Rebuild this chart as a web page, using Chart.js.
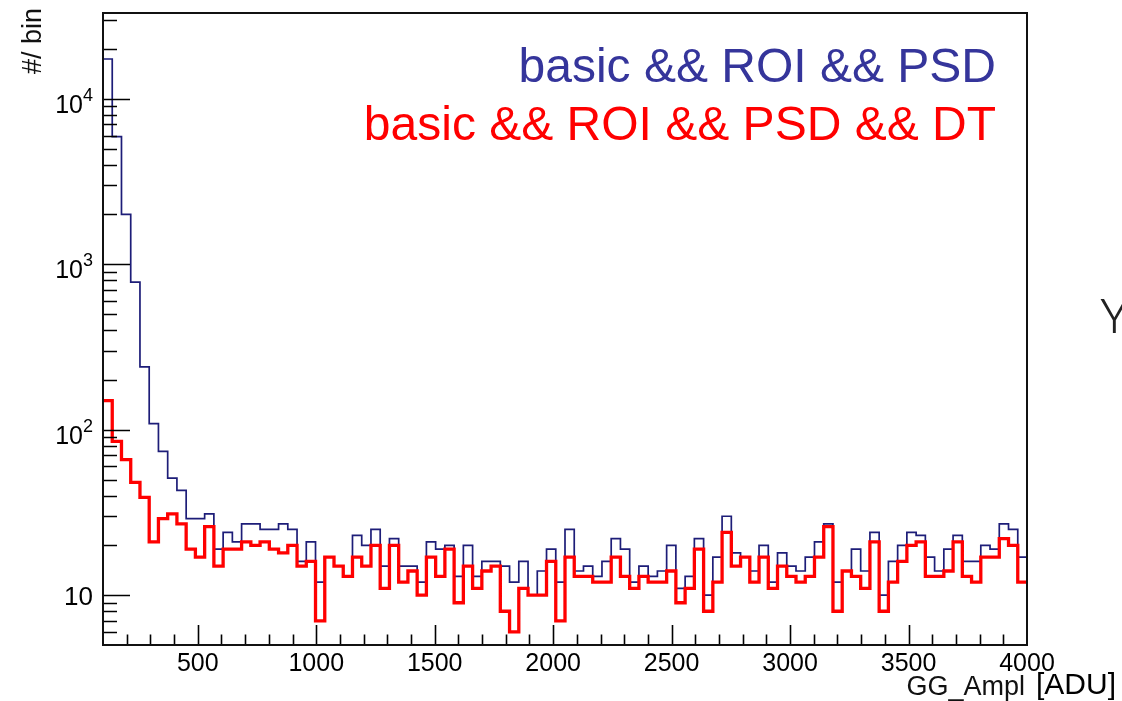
<!DOCTYPE html>
<html>
<head>
<meta charset="utf-8">
<title>GG_Ampl</title>
<script src="https://cdn.jsdelivr.net/npm/chart.js@4.4.1/dist/chart.umd.min.js"></script>
<style>
  html, body { margin: 0; padding: 0; background: #ffffff; }
  #wrap { width: 1122px; height: 701px; }
  canvas { display: block; }
</style>
</head>
<body>
<div id="wrap"><canvas id="c" width="1122" height="701"></canvas></div>
<script>
// Histogram binning: 100 bins of 39 ADU from 100 to 4000
const binLow = 100;
const binWidth = 39;

// Counts per bin, cut "basic && ROI && PSD"
const countsPSD = [
  17400, 5900, 2000, 780, 240, 109, 74, 51, 43, 29,
  29, 31, 19, 24, 21, 27, 27, 25, 25, 27,
  25, 16, 21, 12, 17, 15, 13, 23, 20, 25,
  15, 22, 15, 15, 12, 21, 19, 20, 13, 20,
  13, 16, 16, 15, 12, 16, 10, 14, 19, 12,
  25, 14, 15, 13, 16, 22, 19, 12, 15, 13,
  14, 20, 11, 13, 22, 10, 17, 30, 18, 17,
  14, 20, 12, 18, 15, 14, 17, 21, 27, 12,
  14, 19, 14, 24, 10, 16, 20, 24, 23, 17,
  14, 19, 23, 16, 16, 20, 19, 27, 25, 17
];

// Counts per bin, cut "basic && ROI && PSD && DT"
const countsPSDDT = [
  150, 85, 66, 48, 39, 21, 29, 31, 27, 19,
  17, 26, 15, 19, 19, 21, 20, 21, 19, 18,
  20, 15, 16, 7, 17, 15, 13, 17, 15, 20,
  11, 20, 12, 14, 10, 17, 13, 19, 9, 15,
  11, 14, 15, 8, 6, 11, 10, 10, 16, 7,
  17, 13, 13, 12, 12, 17, 13, 11, 13, 12,
  12, 14, 9, 11, 19, 8, 12, 24, 15, 17,
  12, 17, 11, 15, 13, 12, 13, 17, 26, 8,
  14, 13, 11, 21, 8, 12, 16, 20, 21, 13,
  13, 14, 21, 13, 12, 17, 17, 22, 20, 12
];

// Axis ranges and tick labels
const xRange = [100, 4000];
const yRange = [5, 33000];
const xMajorTicks = [500, 1000, 1500, 2000, 2500, 3000, 3500, 4000];
const xMinorStep = 100;
const yDecades = [10, 100, 1000, 10000];
const yDecadeExponents = [1, 2, 3, 4];

const legendLines = ['basic && ROI && PSD', 'basic && ROI && PSD && DT'];
const xTitle = 'GG_Ampl';
const xUnit = '[ADU]';
const yTitle = '#/ bin';

const colPSD = '#1d1d78';
const colPSDText = '#35359b';
const colDT = '#ff0000';

// Step outline: one point per bin low edge plus the closing upper edge
function toSteps(counts) {
  const pts = counts.map((c, i) => ({ x: binLow + i * binWidth, y: c }));
  pts.push({ x: binLow + counts.length * binWidth, y: counts[counts.length - 1] });
  return pts;
}

const SANS = '"Liberation Sans", Arial, Helvetica, sans-serif';

// ROOT-style frame: inward ticks, labels, titles and the in-pad legend
const rootFrame = {
  id: 'rootFrame',
  afterDraw(chart) {
    const { ctx, chartArea: a } = chart;
    const xs = chart.scales.x;
    const ys = chart.scales.y;
    ctx.save();

    // ticks
    ctx.strokeStyle = '#000';
    ctx.lineWidth = 1.6;
    ctx.beginPath();
    for (let v = xRange[0] + xMinorStep; v < xRange[1]; v += xMinorStep) {
      const px = Math.round(xs.getPixelForValue(v)) + 0.5;
      const len = (v % 500 === 0) ? 20 : 10.5;
      ctx.moveTo(px, a.bottom);
      ctx.lineTo(px, a.bottom - len);
    }
    for (let d = 1; d <= 10000; d *= 10) {
      for (let m = 1; m <= 9; m++) {
        const v = d * m;
        if (v <= yRange[0] || v >= yRange[1]) continue;
        const py = Math.round(ys.getPixelForValue(v)) + 0.5;
        const len = (m === 1) ? 27 : 14;
        ctx.moveTo(a.left, py);
        ctx.lineTo(a.left + len, py);
      }
    }
    ctx.stroke();

    // frame
    ctx.lineWidth = 2;
    ctx.strokeStyle = '#111';
    ctx.strokeRect(a.left, a.top, a.right - a.left, a.bottom - a.top);

    // x tick labels
    ctx.fillStyle = '#000';
    ctx.font = '25px ' + SANS;
    ctx.textAlign = 'center';
    ctx.textBaseline = 'alphabetic';
    xMajorTicks.forEach(v => {
      ctx.fillText(String(v), xs.getPixelForValue(v), a.bottom + 26);
    });

    // y tick labels: 10, 10^2, 10^3, 10^4
    const labelRight = 93;
    yDecades.forEach((v, i) => {
      const py = ys.getPixelForValue(v);
      const e = yDecadeExponents[i];
      if (e === 1) {
        ctx.font = '26px ' + SANS;
        ctx.textAlign = 'right';
        ctx.fillText('10', labelRight, py + 9.5);
      } else {
        ctx.font = '18px ' + SANS;
        ctx.textAlign = 'right';
        const ew = ctx.measureText(String(e)).width;
        ctx.fillText(String(e), labelRight, py + 2);
        ctx.font = '25px ' + SANS;
        ctx.fillText('10', labelRight - ew, py + 14);
      }
    });

    // axis titles
    ctx.textAlign = 'right';
    ctx.font = '27px ' + SANS;
    ctx.fillStyle = '#111';
    ctx.fillText(xTitle, a.right - 2, 695);
    ctx.textAlign = 'left';
    ctx.font = '30px ' + SANS;
    ctx.fillStyle = '#000';
    ctx.fillText(xUnit, 1036, 694);

    ctx.save();
    ctx.translate(41, 8);
    ctx.rotate(-Math.PI / 2);
    ctx.textAlign = 'right';
    ctx.font = '27px ' + SANS;
    ctx.fillStyle = '#111';
    ctx.fillText(yTitle, 0, 0);
    ctx.restore();

    // legend text inside the pad
    ctx.textAlign = 'right';
    ctx.font = '48px ' + SANS;
    ctx.fillStyle = colPSDText;
    ctx.fillText(legendLines[0], 996, 82);
    ctx.fillStyle = colDT;
    ctx.fillText(legendLines[1], 996, 140);

    // neighbouring panel title, cut at the page edge
    ctx.textAlign = 'left';
    ctx.font = '300 48px Roboto, "Open Sans", sans-serif';
    ctx.fillStyle = '#222';
    ctx.fillText('Y', 1100, 333);

    ctx.restore();
  }
};

new Chart(document.getElementById('c'), {
  type: 'line',
  data: {
    datasets: [
      {
        label: legendLines[0],
        data: toSteps(countsPSD),
        borderColor: colPSD,
        borderWidth: 1.7,
        stepped: 'before',
        pointRadius: 0,
        fill: false,
        order: 2
      },
      {
        label: legendLines[1],
        data: toSteps(countsPSDDT),
        borderColor: colDT,
        borderWidth: 3.3,
        stepped: 'before',
        pointRadius: 0,
        fill: false,
        order: 1
      }
    ]
  },
  options: {
    responsive: false,
    devicePixelRatio: 1,
    animation: false,
    events: [],
    layout: { padding: { left: 103, top: 13, right: 95, bottom: 56 } },
    plugins: {
      legend: { display: false },
      tooltip: { enabled: false }
    },
    scales: {
      x: { type: 'linear', min: xRange[0], max: xRange[1], display: false },
      y: { type: 'logarithmic', min: yRange[0], max: yRange[1], display: false }
    }
  },
  plugins: [rootFrame]
});
</script>
</body>
</html>
